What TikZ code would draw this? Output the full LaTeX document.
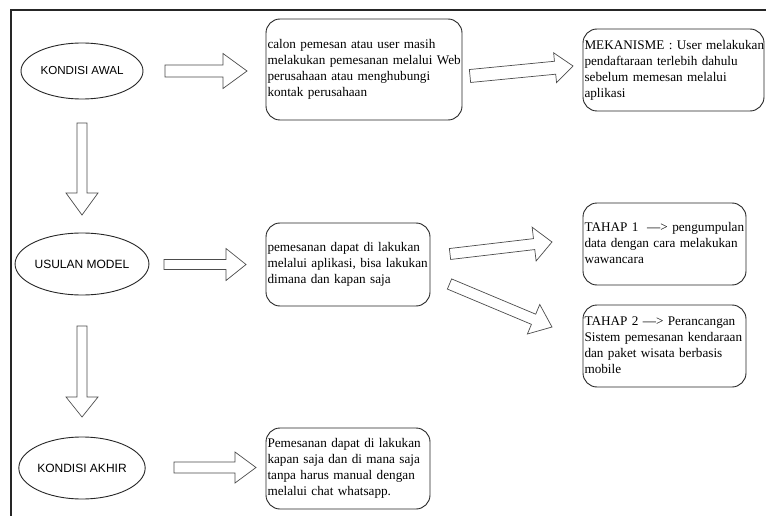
\documentclass[tikz,border=0pt]{standalone}
\usepackage{fontspec}
\setmainfont{Liberation Serif}
\newfontfamily\arialfont{Liberation Sans}
\usetikzlibrary{calc,shapes.geometric}
\tikzset{
  frameline/.style={draw=black!85, line width=1.1pt},
  ell/.style={draw=black!85, line width=0.9pt, ellipse, minimum width=122pt, minimum height=58pt, inner sep=0pt, font=\arialfont\fontsize{12}{14}\selectfont},
  box/.style={draw=black!85, line width=0.9pt, rounded corners=14pt, inner xsep=1.5pt, inner ysep=0pt, align=left, font=\fontsize{13.2}{16}\selectfont},
  blk/.style={draw=black!70, line width=0.7pt, fill=white, line join=miter}
}
\newcommand\lns[1]{\begin{tabular}{@{}l@{}}#1\end{tabular}}
\newcommand\blockarr[5]{%
  \draw[blk] ($(#1)!#3!90:(#2)$) -- ($(#2)!#5!(#1)!#3!-90:(#1)$) -- ($(#2)!#5!(#1)!#4!-90:(#1)$) -- (#2) -- ($(#2)!#5!(#1)!#4!90:(#1)$) -- ($(#2)!#5!(#1)!#3!90:(#1)$) -- ($(#1)!#3!-90:(#2)$) -- cycle;}
\begin{document}
\begin{tikzpicture}[x=1pt,y=-1pt]
\useasboundingbox[fill=white] (0,0) rectangle (766,516);
% frame
\coordinate (fr1) at (766,10);
\coordinate (fr2) at (11,10);
\coordinate (fr3) at (11,516);
\draw[frameline] (fr1) -- (fr2) -- (fr3);
% ellipses
\node[ell, minimum height=56pt, font=\arialfont\fontsize{11.6}{14}\selectfont] (e1) at (82,71) {KONDISI AWAL};
\node[ell, minimum height=62pt] (e2) at (82,264) {USULAN MODEL};
\node[ell, minimum height=62pt] (e3) at (82,468) {KONDISI AKHIR};
% boxes
\node[box, text width=193pt, minimum height=101pt] (b1) at (364,69.5)
  {\lns{calon pemesan atau user masih\\melakukan pemesanan melalui Web\\perusahaan atau menghubungi\\kontak perusahaan}};
\node[box, text width=178pt, minimum height=82pt] (b2) at (673.5,70)
  {\lns{MEKANISME : User melakukan\\pendaftaraan terlebih dahulu\\sebelum memesan melalui\\aplikasi}};
\node[box, text width=161pt, minimum height=83pt] (b3) at (348,264.5)
  {\lns{pemesanan dapat di lakukan\\melalui aplikasi, bisa lakukan\\dimana dan kapan saja}};
\node[box, text width=160pt, minimum height=82pt] (b4) at (664.5,244)
  {\lns{TAHAP 1 \ —> pengumpulan\\data dengan cara melakukan\\wawancara}};
\node[box, text width=160pt, minimum height=82pt] (b5) at (664.5,346)
  {\lns{TAHAP 2 —> Perancangan\\Sistem pemesanan kendaraan\\dan paket wisata berbasis\\mobile}};
\node[box, text width=161pt, minimum height=81pt] (b6) at (348,468.5)
  {\lns{Pemesanan dapat di lakukan\\kapan saja dan di mana saja\\tanpa harus manual dengan\\melalui chat whatsapp.}};
% arrow end points
\coordinate (a1s) at (165,71);   \coordinate (a1t) at (247,71);
\coordinate (a2s) at (470,76);   \coordinate (a2t) at (573,66);
\coordinate (a3s) at (82,123);   \coordinate (a3t) at (82,215);
\coordinate (a4s) at (164,264.5); \coordinate (a4t) at (246,264.5);
\coordinate (a5s) at (82,326);   \coordinate (a5t) at (82,417);
\coordinate (a6s) at (174,467.5); \coordinate (a6t) at (256,467.5);
\coordinate (a7s) at (450,254);  \coordinate (a7t) at (552,242);
\coordinate (a8s) at (449.5,284); \coordinate (a8t) at (552,327);
% block arrows
\blockarr{a1s}{a1t}{6pt}{17.5pt}{24pt}
\blockarr{a2s}{a2t}{6.5pt}{15pt}{18pt}
\blockarr{a3s}{a3t}{5pt}{16pt}{22pt}
\blockarr{a4s}{a4t}{5pt}{16pt}{20pt}
\blockarr{a5s}{a5t}{5pt}{16pt}{20pt}
\blockarr{a6s}{a6t}{5.5pt}{15.5pt}{21pt}
\blockarr{a7s}{a7t}{5.5pt}{17pt}{18pt}
\blockarr{a8s}{a8t}{5.5pt}{16pt}{20pt}
\end{tikzpicture}
\end{document}
